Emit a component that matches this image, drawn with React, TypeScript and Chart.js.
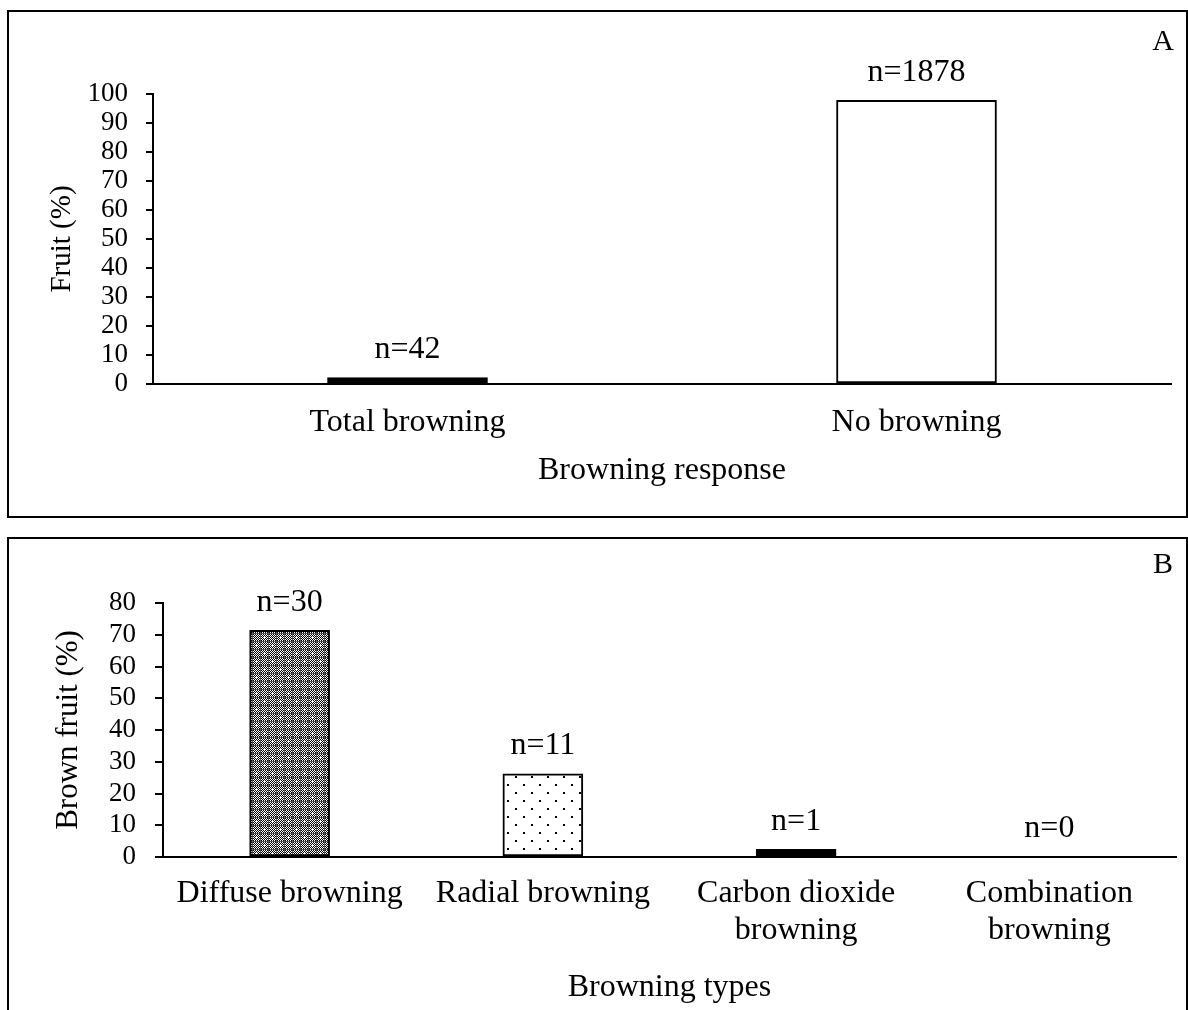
import { useEffect, useRef } from "react";
import { Chart, registerables } from "chart.js";

Chart.register(...registerables);

// Panel A: overall browning response
const responseCategories = ["Total browning", "No browning"];
const responsePercent = [2.2, 97.8];
const responseCounts = [42, 1878];

// Panel B: browning types among brown fruit
const typeCategories = [["Diffuse browning"], ["Radial browning"], ["Carbon dioxide", "browning"], ["Combination", "browning"]];
const typePercent = [71.4, 26.2, 2.4, 0];
const typeCounts = [30, 11, 1, 0];

const FONT = "'Liberation Serif', 'Times New Roman', serif";

function makeDensePattern(): CanvasPattern | string {
  const c = document.createElement("canvas");
  c.width = 16;
  c.height = 16;
  const g = c.getContext("2d");
  if (!g) return "#555";
  g.fillStyle = "#fff";
  g.fillRect(0, 0, 16, 16);
  g.fillStyle = "#000";
  for (let y = 0; y < 16; y++) {
    for (let x = 0; x < 16; x++) {
      if ((x + y) % 2 === 0) g.fillRect(x, y, 1, 1);
    }
  }
  g.fillStyle = "#555";
  g.fillRect(0, 4, 16, 1);
  g.fillRect(0, 12, 16, 1);
  g.fillRect(4, 0, 1, 16);
  g.fillRect(12, 0, 1, 16);
  g.fillStyle = "#fff";
  const plus = (cx: number, cy: number) => {
    g.fillRect(cx - 1, cy, 3, 1);
    g.fillRect(cx, cy - 1, 1, 3);
  };
  plus(0, 0);
  plus(16, 0);
  plus(0, 16);
  plus(16, 16);
  plus(8, 8);
  const p = g.createPattern(c, "repeat");
  return p || "#555";
}

function makeDotPattern(): CanvasPattern | string {
  const c = document.createElement("canvas");
  c.width = 16;
  c.height = 16;
  const g = c.getContext("2d");
  if (!g) return "#eee";
  g.fillStyle = "#fff";
  g.fillRect(0, 0, 16, 16);
  g.fillStyle = "#000";
  g.fillRect(3, 3, 2, 2);
  g.fillRect(11, 11, 2, 2);
  const p = g.createPattern(c, "repeat");
  return p || "#eee";
}

// Draws "n=..." above each bar, plus the panel letter
const countLabels = {
  id: "countLabels",
  afterDatasetsDraw(chart: any, _args: any, opts: any) {
    const { ctx } = chart;
    const meta = chart.getDatasetMeta(0);
    const counts: number[] = opts.counts || [];
    ctx.save();
    ctx.font = `${opts.size}px ${FONT}`;
    ctx.fillStyle = "#000";
    ctx.textAlign = "center";
    ctx.textBaseline = "middle";
    meta.data.forEach((bar: any, i: number) => {
      ctx.fillText(`n=${counts[i]}`, bar.x, bar.y - opts.offset);
    });
    if (opts.letter) {
      ctx.font = `30px ${FONT}`;
      ctx.fillText(opts.letter, opts.letterX, opts.letterY);
    }
    ctx.restore();
  },
};

function buildOptions(cfg: {
  yMax: number;
  yTitle: string;
  yTitleSize: number;
  xTitle: string;
  yWidth: number;
  xHeight: number;
  padTop: number;
  padRight: number;
  yTitlePad: number;
  xTitlePad: number;
  xTickPad: number;
  yTickPad: number;
  tickLen: number;
  counts: number[];
  letter: string;
  letterY: number;
}) {
  return {
    responsive: false,
    animation: false as const,
    layout: { padding: { top: cfg.padTop, right: cfg.padRight, left: 0, bottom: 0 } },
    plugins: {
      legend: { display: false },
      tooltip: { enabled: false },
      countLabels: {
        counts: cfg.counts,
        size: 32,
        offset: 28,
        letter: cfg.letter,
        letterX: 1163,
        letterY: cfg.letterY,
      },
    },
    scales: {
      x: {
        grid: { display: false, drawTicks: false },
        border: { display: true, color: "#000", width: 2 },
        ticks: {
          color: "#000",
          padding: cfg.xTickPad,
          maxRotation: 0,
          autoSkip: false,
          font: { family: FONT, size: 32, lineHeight: 1.15 },
        },
        title: {
          display: true,
          text: cfg.xTitle,
          color: "#000",
          font: { family: FONT, size: 32, lineHeight: 1.2 },
          padding: { top: 0, bottom: cfg.xTitlePad },
        },
        afterFit: (scale: any) => {
          scale.height = cfg.xHeight;
        },
      },
      y: {
        min: 0,
        max: cfg.yMax,
        grid: {
          display: true,
          drawOnChartArea: false,
          drawTicks: true,
          tickLength: cfg.tickLen,
          color: "#000",
          lineWidth: 2,
        },
        border: { display: true, color: "#000", width: 2 },
        ticks: {
          stepSize: 10,
          autoSkip: false,
          color: "#000",
          padding: cfg.yTickPad,
          font: { family: FONT, size: 27 },
        },
        title: {
          display: true,
          text: cfg.yTitle,
          color: "#000",
          font: { family: FONT, size: cfg.yTitleSize, lineHeight: 1.2 },
          padding: { top: cfg.yTitlePad, bottom: 0 },
        },
        afterFit: (scale: any) => {
          scale.width = cfg.yWidth;
        },
      },
    },
  };
}

export default function App() {
  const refA = useRef<HTMLCanvasElement | null>(null);
  const refB = useRef<HTMLCanvasElement | null>(null);

  useEffect(() => {
    if (!refA.current || !refB.current) return;
    const chartA = new Chart(refA.current, {
      type: "bar",
      data: {
        labels: responseCategories,
        datasets: [
          {
            data: responsePercent,
            backgroundColor: ["#000", "#fff"],
            borderColor: "#000",
            borderWidth: 2,
            borderSkipped: false,
            barThickness: 160,
          },
        ],
      },
      options: buildOptions({
        yMax: 100,
        yTitle: "Fruit (%)",
        yTitleSize: 29,
        xTitle: "Browning response",
        yWidth: 153,
        xHeight: 133,
        padTop: 94,
        padRight: 17,
        yTitlePad: 45,
        xTitlePad: 27,
        xTickPad: 20,
        yTickPad: 18,
        tickLen: 7,
        counts: responseCounts,
        letter: "A",
        letterY: 42,
      }) as any,
      plugins: [countLabels],
    });

    const chartB = new Chart(refB.current, {
      type: "bar",
      data: {
        labels: typeCategories,
        datasets: [
          {
            data: typePercent,
            backgroundColor: [makeDensePattern(), makeDotPattern(), "#000", "rgba(0,0,0,0)"],
            borderColor: ["#000", "#000", "#000", "rgba(0,0,0,0)"],
            borderWidth: 2,
            borderSkipped: false,
            barThickness: 80,
          },
        ],
      },
      options: buildOptions({
        yMax: 80,
        yTitle: "Brown fruit (%)",
        yTitleSize: 31,
        xTitle: "Browning types",
        yWidth: 163,
        xHeight: 153,
        padTop: 86,
        padRight: 12,
        yTitlePad: 50,
        xTitlePad: 3,
        xTickPad: 18,
        yTickPad: 19,
        tickLen: 8,
        counts: typeCounts,
        letter: "B",
        letterY: 48,
      }) as any,
      plugins: [countLabels],
    });

    return () => {
      chartA.destroy();
      chartB.destroy();
    };
  }, []);

  return (
    <div
      style={{
        position: "absolute",
        left: 0,
        top: 0,
        width: 1188,
        height: 1010,
        overflow: "hidden",
        background: "#fff",
      }}
    >
      <div
        style={{
          position: "absolute",
          left: 7,
          top: 10,
          width: 1181,
          height: 508,
          border: "2px solid #000",
          boxSizing: "border-box",
        }}
      />
      <div
        style={{
          position: "absolute",
          left: 7,
          top: 537,
          width: 1181,
          height: 500,
          border: "2px solid #000",
          boxSizing: "border-box",
        }}
      />
      <canvas
        ref={refA}
        width={1188}
        height={517}
        style={{ position: "absolute", left: 0, top: 0, width: 1188, height: 517, display: "block" }}
      />
      <canvas
        ref={refB}
        width={1188}
        height={493}
        style={{ position: "absolute", left: 0, top: 517, width: 1188, height: 493, display: "block" }}
      />
    </div>
  );
}
